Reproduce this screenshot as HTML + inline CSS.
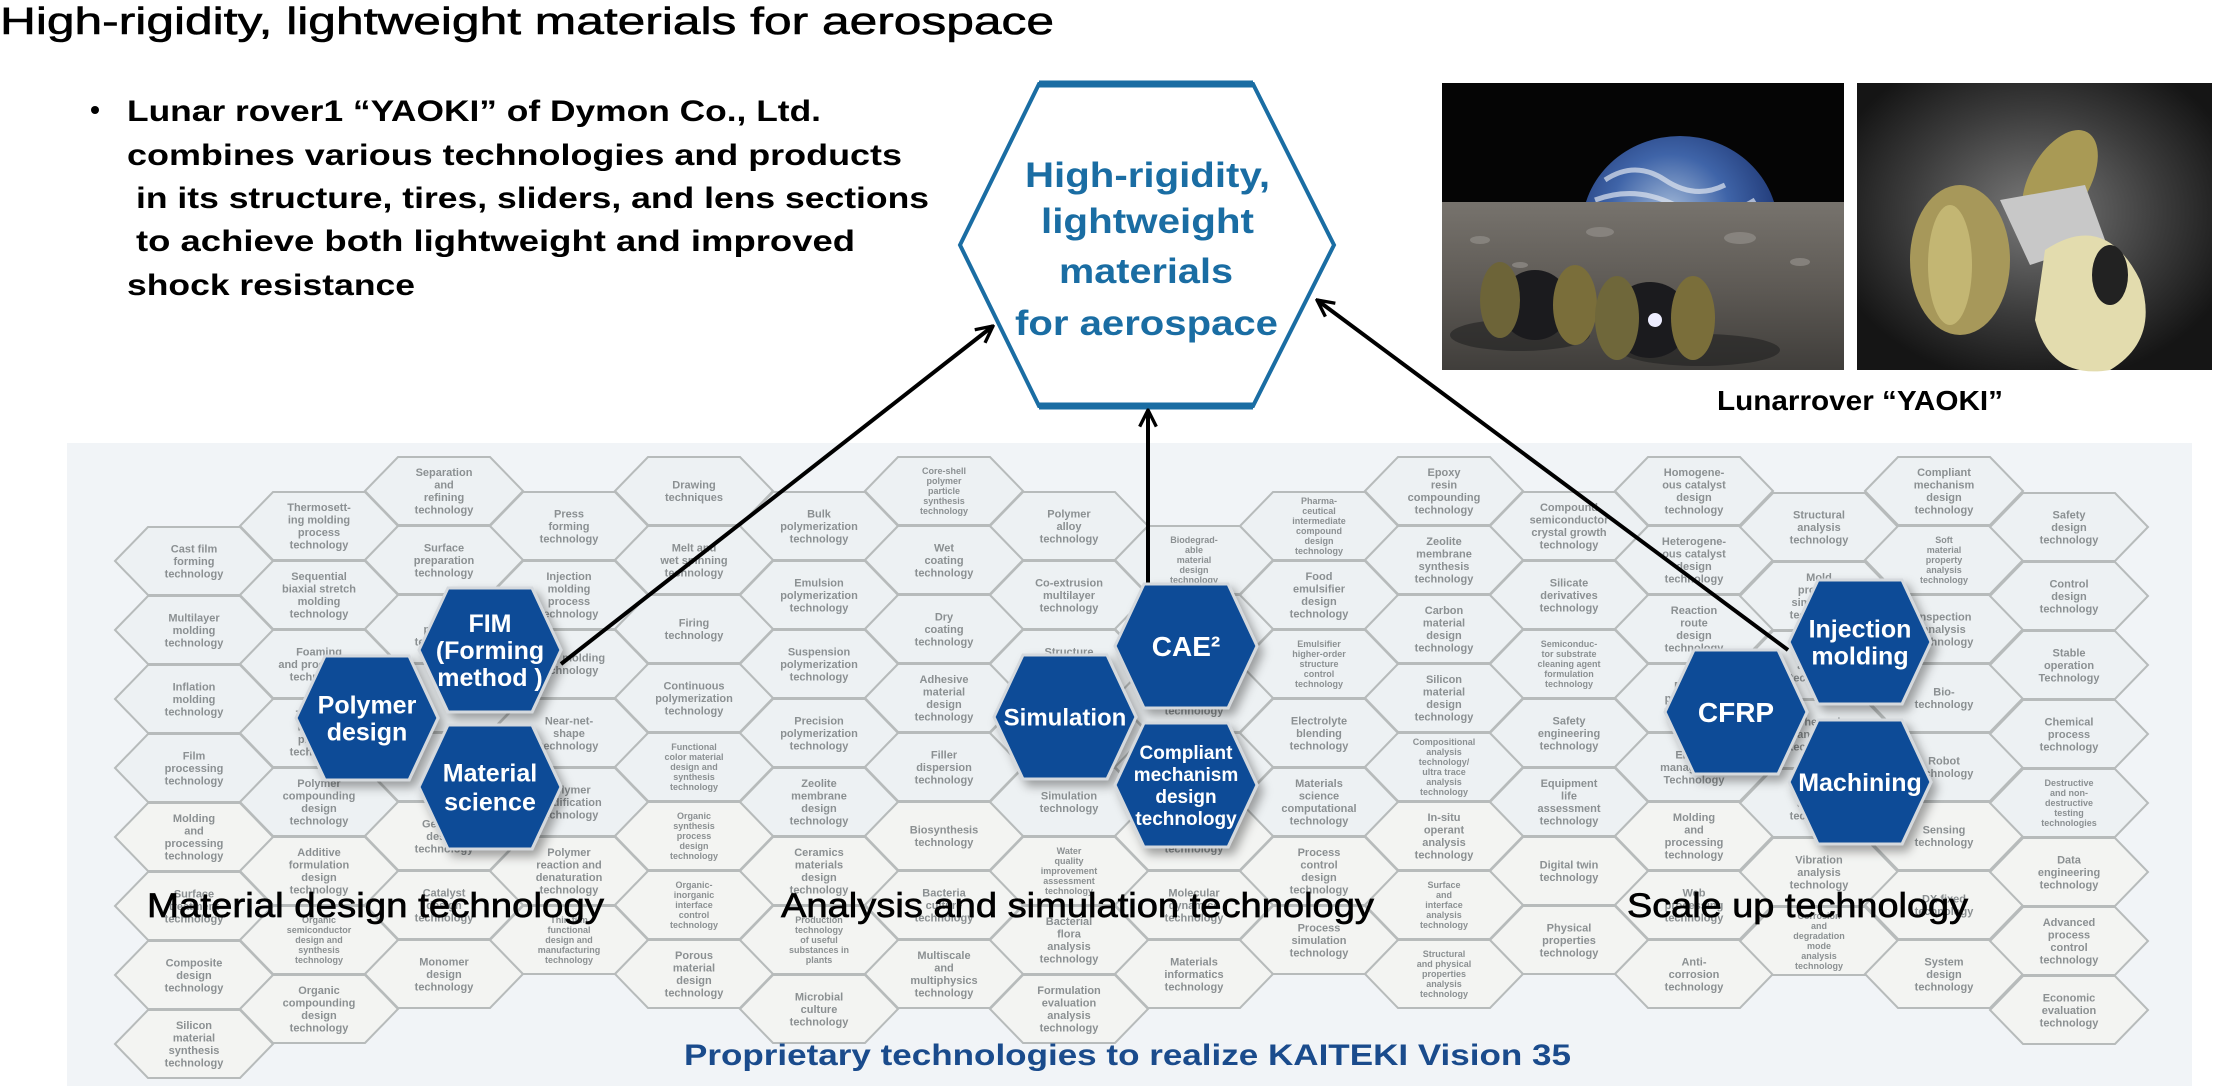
<!DOCTYPE html>
<html><head><meta charset="utf-8"><style>
html,body{margin:0;padding:0;background:#fff;width:2236px;height:1086px;overflow:hidden}
svg{display:block}
</style></head><body>
<svg id="s" width="2236" height="1086" viewBox="0 0 2236 1086" xmlns="http://www.w3.org/2000/svg" font-family="Liberation Sans, sans-serif">
<defs>
<filter id="sh" x="-20%" y="-20%" width="150%" height="150%"><feDropShadow dx="5" dy="6" stdDeviation="5" flood-color="#000" flood-opacity="0.35"/></filter>
<marker id="ar" viewBox="0 0 12 12" refX="11" refY="6" markerWidth="5" markerHeight="5" orient="auto" markerUnits="strokeWidth"><path d="M1,1 L11,6 L1,11" fill="none" stroke="#000" stroke-width="2"/></marker>
<radialGradient id="earth" cx="45%" cy="40%" r="60%"><stop offset="0" stop-color="#9fb6d6"/><stop offset="0.5" stop-color="#3f64a8"/><stop offset="1" stop-color="#1d3470"/></radialGradient>
<linearGradient id="ground" x1="0" y1="0" x2="0" y2="1"><stop offset="0" stop-color="#77736d"/><stop offset="0.5" stop-color="#5e5a55"/><stop offset="1" stop-color="#3f3d3a"/></linearGradient>
<radialGradient id="dust" cx="50%" cy="45%" r="60%"><stop offset="0" stop-color="#7a7a7a"/><stop offset="0.6" stop-color="#3b3b3b"/><stop offset="1" stop-color="#151515"/></radialGradient>
</defs>
<rect x="67" y="443" width="2125" height="643" fill="#f1f4f7"/>
<g id="grid"></g>

<text x="0" y="34" font-size="38" stroke="#000" stroke-width="0.6" textLength="1054" lengthAdjust="spacingAndGlyphs" fill="#000">High-rigidity, lightweight materials for aerospace</text>
<circle cx="95" cy="110" r="4" fill="#000"/>
<g font-size="30" fill="#000" font-weight="bold">
<text x="127" y="121" textLength="694" lengthAdjust="spacingAndGlyphs">Lunar rover1 “YAOKI” of Dymon Co., Ltd.</text>
<text x="127" y="165" textLength="775" lengthAdjust="spacingAndGlyphs">combines various technologies and products</text>
<text x="136" y="208" textLength="793" lengthAdjust="spacingAndGlyphs">in its structure, tires, sliders, and lens sections</text>
<text x="136" y="251" textLength="719" lengthAdjust="spacingAndGlyphs">to achieve both lightweight and improved</text>
<text x="127" y="295" textLength="288" lengthAdjust="spacingAndGlyphs">shock resistance</text>
</g>

<polygon points="960,245 1039,84 1253,84 1334,245 1253,406 1039,406" fill="#fff" stroke="#1a6da3" stroke-width="4"/>
<line x1="1039" y1="84" x2="1253" y2="84" stroke="#1a6da3" stroke-width="7"/>
<line x1="1039" y1="406" x2="1253" y2="406" stroke="#1a6da3" stroke-width="7"/>
<g font-size="35" font-weight="bold" fill="#1a6da3">
<text x="1025" y="187" textLength="245" lengthAdjust="spacingAndGlyphs">High-rigidity,</text>
<text x="1041" y="233" textLength="213" lengthAdjust="spacingAndGlyphs">lightweight</text>
<text x="1059" y="283" textLength="174" lengthAdjust="spacingAndGlyphs">materials</text>
<text x="1015" y="335" textLength="263" lengthAdjust="spacingAndGlyphs">for aerospace</text>
</g>

<g>
<rect x="1442" y="83" width="402" height="287" fill="#050505"/>
<clipPath id="c1"><rect x="1442" y="83" width="402" height="287"/></clipPath>
<g clip-path="url(#c1)">
<ellipse cx="1680" cy="228" rx="98" ry="92" fill="url(#earth)"/>
<path d="M1605,180 q30,-20 60,0 t60,5 M1595,200 q40,-15 80,5 t80,-5" stroke="#dfe6f0" stroke-width="5" fill="none" opacity="0.7"/>
<rect x="1442" y="202" width="402" height="170" fill="url(#ground)"/>
<g fill="#8d8a85" opacity="0.8"><ellipse cx="1480" cy="240" rx="10" ry="4"/><ellipse cx="1600" cy="232" rx="14" ry="5"/><ellipse cx="1740" cy="238" rx="16" ry="6"/><ellipse cx="1800" cy="262" rx="10" ry="4"/><ellipse cx="1520" cy="265" rx="8" ry="3"/></g>
<ellipse cx="1520" cy="335" rx="70" ry="16" fill="#222" opacity="0.6"/>
<ellipse cx="1700" cy="350" rx="80" ry="16" fill="#222" opacity="0.6"/>
<ellipse cx="1535" cy="305" rx="35" ry="35" fill="#1b1b1e"/>
<ellipse cx="1500" cy="300" rx="20" ry="38" fill="#6d6438"/>
<ellipse cx="1575" cy="305" rx="22" ry="40" fill="#7a6e3a"/>
<ellipse cx="1650" cy="320" rx="40" ry="38" fill="#1b1b1e"/>
<ellipse cx="1617" cy="318" rx="22" ry="42" fill="#6f673a"/>
<ellipse cx="1693" cy="318" rx="22" ry="42" fill="#7a6e3a"/>
<circle cx="1655" cy="320" r="7" fill="#eef"/>
</g>
<rect x="1857" y="83" width="355" height="287" fill="url(#dust)"/>
<ellipse cx="2060" cy="180" rx="30" ry="55" fill="#a99a55" transform="rotate(30 2060 180)"/>
<polygon points="2000,200 2085,185 2105,240 2030,265" fill="#c8c8c8"/>
<ellipse cx="1960" cy="260" rx="50" ry="75" fill="#a7985a"/>
<ellipse cx="1950" cy="265" rx="22" ry="60" fill="#c3b673"/>
<path d="M2045,250 q60,-40 95,30 q20,60 -30,90 q-60,10 -75,-50 z" fill="#e3dcae"/>
<ellipse cx="2110" cy="275" rx="18" ry="30" fill="#222"/>
</g>
<text x="1717" y="410" font-size="28" font-weight="bold" textLength="286" lengthAdjust="spacingAndGlyphs" fill="#000">Lunarrover “YAOKI”</text>

<g stroke="#000" stroke-width="4" fill="none" marker-end="url(#ar)">
<line x1="561" y1="664" x2="993" y2="326"/>
<line x1="1148" y1="585" x2="1148" y2="410"/>
<line x1="1788" y1="650" x2="1317" y2="300"/>
</g>

<g id="blue"></g>

<g font-size="34" fill="#000" stroke="#000" stroke-width="0.7">
<text x="147" y="917" textLength="457" lengthAdjust="spacingAndGlyphs">Material design technology</text>
<text x="781" y="917" textLength="593" lengthAdjust="spacingAndGlyphs">Analysis and simulation technology</text>
<text x="1627" y="917" textLength="341" lengthAdjust="spacingAndGlyphs">Scale up technology</text>
</g>
<text x="684" y="1065" font-size="30" font-weight="bold" fill="#1a4b8c" textLength="887" lengthAdjust="spacingAndGlyphs">Proprietary technologies to realize KAITEKI Vision 35</text>
</svg>
<script>
(function(){
var cols=[
[527,["Cast film|forming|technology","Multilayer|molding|technology","Inflation|molding|technology","Film|processing|technology","Molding|and|processing|technology","Surface|treatment|technology","Composite|design|technology","Silicon|material|synthesis|technology"]],
[492,["Thermosett-|ing molding|process|technology","Sequential|biaxial stretch|molding|technology","Foaming|and processing|technology","Thin-film|molding|process|technology","Polymer|compounding|design|technology","Additive|formulation|design|technology","Organic|semiconductor|design and|synthesis|technology","Organic|compounding|design|technology"]],
[457,["Separation|and|refining|technology","Surface|preparation|technology","3D|printing|technology","","","Genome|design|technology","Catalyst|design|technology","Monomer|design|technology"]],
[492,["Press|forming|technology","Injection|molding|process|technology","Blow molding|technology","Near-net-|shape|technology","Polymer|modification|technology","Polymer|reaction and|denaturation|technology","Thin film|functional|design and|manufacturing|technology"]],
[457,["Drawing|techniques","Melt and|wet spinning|technology","Firing|technology","Continuous|polymerization|technology","Functional|color material|design and|synthesis|technology","Organic|synthesis|process|design|technology","Organic-|inorganic|interface|control|technology","Porous|material|design|technology"]],
[492,["Bulk|polymerization|technology","Emulsion|polymerization|technology","Suspension|polymerization|technology","Precision|polymerization|technology","Zeolite|membrane|design|technology","Ceramics|materials|design|technology","Production|technology|of useful|substances in|plants","Microbial|culture|technology"]],
[457,["Core-shell|polymer|particle|synthesis|technology","Wet|coating|technology","Dry|coating|technology","Adhesive|material|design|technology","Filler|dispersion|technology","Biosynthesis|technology","Bacteria|culture|technology","Multiscale|and|multiphysics|technology"]],
[492,["Polymer|alloy|technology","Co-extrusion|multilayer|technology","Structure|analysis|technology","Simulation|design|technology","Simulation|technology","Water|quality|improvement|assessment|technology","Bacterial|flora|analysis|technology","Formulation|evaluation|analysis|technology"]],
[526,["Biodegrad-|able|material|design|technology","Molecular|simulation|technology","Polymer|design|technology","Material|design|technology","Molecular|design|technology","Molecular|dynamics|technology","Materials|informatics|technology"]],
[492,["Pharma-|ceutical|intermediate|compound|design|technology","Food|emulsifier|design|technology","Emulsifier|higher-order|structure|control|technology","Electrolyte|blending|technology","Materials|science|computational|technology","Process|control|design|technology","Process|simulation|technology"]],
[457,["Epoxy|resin|compounding|technology","Zeolite|membrane|synthesis|technology","Carbon|material|design|technology","Silicon|material|design|technology","Compositional|analysis|technology/|ultra trace|analysis|technology","In-situ|operant|analysis|technology","Surface|and|interface|analysis|technology","Structural|and physical|properties|analysis|technology"]],
[492,["Compound|semiconductor|crystal growth|technology","Silicate|derivatives|technology","Semiconduc-|tor substrate|cleaning agent|formulation|technology","Safety|engineering|technology","Equipment|life|assessment|technology","Digital twin|technology","Physical|properties|technology"]],
[457,["Homogene-|ous catalyst|design|technology","Heterogene-|ous catalyst|design|technology","Reaction|route|design|technology","Particle|processing|technology","Energy|management|Technology","Molding|and|processing|technology","Web|processing|technology","Anti-|corrosion|technology"]],
[493,["Structural|analysis|technology","Mold|process|simulation|technology","Flow|analysis|technology","Thermal|analysis|technology","Strength|analysis|technology","Vibration|analysis|technology","Corrosion|and|degradation|mode|analysis|technology"]],
[457,["Compliant|mechanism|design|technology","Soft|material|property|analysis|technology","Inspection|analysis|technology","Bio-|technology","Robot|technology","Sensing|technology","DX fixed|technology","System|design|technology"]],
[493,["Safety|design|technology","Control|design|technology","Stable|operation|Technology","Chemical|process|technology","Destructive|and non-|destructive|testing|technologies","Data|engineering|technology","Advanced|process|control|technology","Economic|evaluation|technology"]]
];
var g=document.getElementById("grid"),out="";
for(var i=0;i<cols.length;i++){
 var x=115+i*125,top=cols[i][0],L=cols[i][1];
 for(var j=0;j<L.length;j++){
  var y=top+j*69;
  var fill=y>780?"#f3f4f2":"#edf1f3";
  out+='<polygon points="'+x+','+(y+34)+' '+(x+33)+','+y+' '+(x+125)+','+y+' '+(x+158)+','+(y+34)+' '+(x+125)+','+(y+68)+' '+(x+33)+','+(y+68)+'" fill="'+fill+'" stroke="#b7bbbb" stroke-width="2"/>';
  if(!L[j])continue;var ls=L[j].split("|");
  var n=ls.length,fs=n>4?9:11,lh=n>4?10:12.5,cy=y+34-(n-1)*lh/2+fs*0.35;
  for(var k=0;k<n;k++){out+='<text x="'+(x+79)+'" y="'+(cy+k*lh)+'" font-size="'+fs+'" font-weight="bold" fill="#8b9092" text-anchor="middle">'+ls[k]+'</text>';}
 }
}
g.innerHTML=out;
var B=[[367,718,["Polymer","design"],25,27],[490,650,["FIM","(Forming","method )"],25,27],[490,787,["Material","science"],25,29],
[1186,646,["CAE²"],28,0],[1065,717,["Simulation"],24,0],[1186,785,["Compliant","mechanism","design","technology"],19,22],
[1736,712,["CFRP"],28,0],[1860,642,["Injection","molding"],25,27],[1860,782,["Machining"],25,0]];
var o="";
for(var i=0;i<B.length;i++){var b=B[i],cx=b[0],cy=b[1];
 o+='<polygon filter="url(#sh)" points="'+(cx-71)+','+cy+' '+(cx-42)+','+(cy-62)+' '+(cx+42)+','+(cy-62)+' '+(cx+71)+','+cy+' '+(cx+42)+','+(cy+62)+' '+(cx-42)+','+(cy+62)+'" fill="#0b4c97" stroke="#d5d9dd" stroke-width="3"/>';
 var n=b[2].length,y0=cy-(n-1)*b[4]/2+b[3]*0.36;
 for(var k=0;k<n;k++)o+='<text x="'+cx+'" y="'+(y0+k*b[4])+'" font-size="'+b[3]+'" font-weight="bold" fill="#fff" text-anchor="middle">'+b[2][k]+'</text>';
}
document.getElementById("blue").innerHTML=o;
})();
</script>
</body></html>
